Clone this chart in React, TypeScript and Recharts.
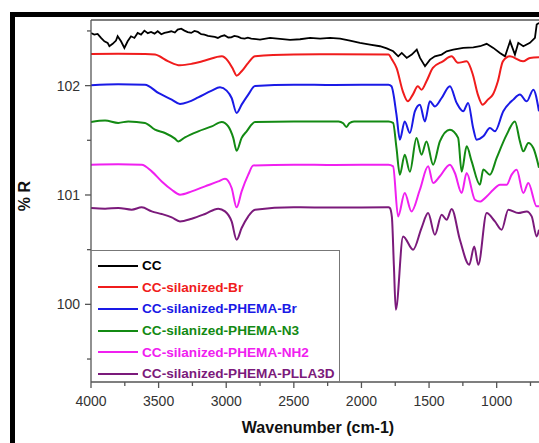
import { LineChart, Line, XAxis, YAxis, Legend, ReferenceLine } from 'recharts';

// FTIR spectra, [wavenumber cm-1, %R] pairs
const cc: [number, number][] = [
  [4000, 102.48], [3976, 102.467], [3951, 102.473], [3926, 102.436], [3901, 102.405], [3877, 102.391],
  [3864, 102.36], [3840, 102.382], [3815, 102.412], [3803, 102.451], [3778, 102.405], [3753, 102.345],
  [3729, 102.405], [3704, 102.451], [3679, 102.436], [3655, 102.482], [3630, 102.467], [3605, 102.503],
  [3580, 102.48], [3556, 102.491], [3530, 102.475], [3507, 102.497], [3480, 102.47], [3457, 102.482],
  [3430, 102.49], [3407, 102.497], [3380, 102.485], [3359, 102.512], [3333, 102.521], [3309, 102.503],
  [3285, 102.49], [3259, 102.482], [3235, 102.5], [3210, 102.491], [3185, 102.47], [3161, 102.467],
  [3135, 102.455], [3111, 102.451], [3085, 102.445], [3062, 102.436], [3040, 102.45], [3013, 102.46],
  [2985, 102.44], [2963, 102.442], [2940, 102.455], [2914, 102.448], [2890, 102.435], [2864, 102.43],
  [2840, 102.438], [2815, 102.43], [2750, 102.421], [2676, 102.436], [2602, 102.427], [2528, 102.418],
  [2454, 102.424], [2380, 102.436], [2306, 102.43], [2232, 102.436], [2158, 102.43], [2085, 102.412],
  [2011, 102.391], [1937, 102.375], [1863, 102.36], [1813, 102.34], [1765, 102.314], [1728, 102.268],
  [1702, 102.299], [1665, 102.253], [1628, 102.284], [1591, 102.329], [1567, 102.253], [1530, 102.177],
  [1493, 102.238], [1457, 102.268], [1407, 102.284], [1370, 102.314], [1321, 102.329], [1247, 102.345],
  [1173, 102.35], [1123, 102.36], [1074, 102.382], [1025, 102.345], [976, 102.299], [938, 102.268],
  [901, 102.405], [865, 102.284], [840, 102.391], [803, 102.36], [754, 102.391], [717, 102.436],
  [704, 102.558], [687, 102.574],
];

const silanizedBr: [number, number][] = [
  [4000, 102.29], [3800, 102.292], [3600, 102.29], [3527, 102.284], [3428, 102.222], [3342, 102.186],
  [3255, 102.199], [3157, 102.229], [3033, 102.268], [2985, 102.222], [2948, 102.146], [2923, 102.091],
  [2886, 102.131], [2837, 102.208], [2787, 102.268], [2500, 102.284], [2200, 102.286], [1800, 102.284],
  [1775, 102.24], [1740, 102.16], [1694, 101.948], [1657, 101.856], [1620, 101.918], [1583, 101.994],
  [1556, 101.963], [1519, 102.04], [1472, 102.162], [1398, 102.222], [1333, 102.268], [1287, 102.208],
  [1222, 102.222], [1176, 102.1], [1139, 101.918], [1104, 101.826], [1065, 101.872], [1028, 101.918],
  [991, 102.04], [954, 102.222], [902, 102.268], [805, 102.222], [754, 102.253], [687, 102.259],
];

const phemaBr: [number, number][] = [
  [4000, 102.003], [3800, 102.012], [3601, 102.009], [3502, 101.933], [3403, 101.872], [3342, 101.833],
  [3280, 101.851], [3207, 101.893], [3107, 101.954], [3046, 101.984], [2997, 101.954], [2960, 101.887],
  [2923, 101.75], [2886, 101.826], [2837, 101.918], [2787, 101.996], [2500, 102.009], [2200, 102.005],
  [1800, 102.009], [1778, 101.994], [1741, 101.735], [1716, 101.506], [1680, 101.673], [1642, 101.567],
  [1605, 101.765], [1568, 101.826], [1531, 101.673], [1494, 101.856], [1457, 101.81], [1407, 101.887],
  [1346, 101.994], [1296, 101.842], [1248, 101.765], [1211, 101.842], [1174, 101.613], [1148, 101.506],
  [1099, 101.536], [1050, 101.613], [1013, 101.582], [951, 101.765], [877, 101.872], [828, 101.918],
  [778, 101.856], [729, 101.963], [687, 101.765],
];

const phemaN3: [number, number][] = [
  [4000, 101.668], [3896, 101.68], [3798, 101.659], [3724, 101.673], [3601, 101.659], [3527, 101.597],
  [3453, 101.567], [3379, 101.515], [3354, 101.49], [3305, 101.527], [3207, 101.582], [3107, 101.627],
  [3033, 101.668], [2985, 101.627], [2948, 101.522], [2923, 101.405], [2886, 101.522], [2849, 101.582],
  [2787, 101.668], [2500, 101.673], [2170, 101.673], [2135, 101.655], [2111, 101.622], [2090, 101.655],
  [2055, 101.673], [1800, 101.673],
  [1766, 101.659], [1741, 101.43], [1716, 101.186], [1680, 101.369], [1642, 101.213], [1593, 101.522],
  [1556, 101.369], [1519, 101.49], [1470, 101.277], [1420, 101.49], [1346, 101.597], [1285, 101.522],
  [1259, 101.213], [1222, 101.445], [1185, 101.307], [1124, 101.094], [1099, 101.232], [1050, 101.186],
  [1000, 101.339], [926, 101.552], [865, 101.673], [828, 101.49], [803, 101.399], [766, 101.476],
  [729, 101.43], [687, 101.25],
];

const phemaNH2: [number, number][] = [
  [4000, 101.277], [3800, 101.28], [3625, 101.277], [3551, 101.216], [3477, 101.124], [3403, 101.048],
  [3342, 101.003], [3255, 101.033], [3157, 101.079], [3059, 101.124], [3009, 101.149], [2960, 101.064],
  [2923, 100.887], [2886, 101.033], [2837, 101.186], [2800, 101.27], [2500, 101.277], [2200, 101.275],
  [1800, 101.277], [1766, 101.262], [1729, 100.804], [1680, 101.018], [1630, 100.85], [1568, 101.048],
  [1507, 101.262], [1470, 101.11], [1420, 101.171], [1346, 101.277], [1309, 101.201], [1259, 101.018],
  [1222, 101.201], [1161, 100.957], [1124, 100.94], [1074, 100.987], [1025, 101.048], [976, 101.094],
  [926, 101.094], [889, 101.186], [852, 101.231], [803, 101.018], [766, 101.11], [704, 100.896],
  [687, 100.896],
];

const phemaPLLA3D: [number, number][] = [
  [4000, 100.881], [3896, 100.875], [3798, 100.881], [3699, 100.866], [3625, 100.887], [3551, 100.85],
  [3477, 100.826], [3403, 100.795], [3342, 100.758], [3255, 100.783], [3157, 100.826], [3059, 100.875],
  [3009, 100.85], [2960, 100.758], [2923, 100.591], [2886, 100.698], [2837, 100.805], [2787, 100.866],
  [2500, 100.887], [2200, 100.885], [1800, 100.887], [1790, 100.881], [1775, 100.8], [1760, 100.35],
  [1746, 99.951], [1692, 100.621], [1618, 100.5], [1556, 100.698], [1507, 100.835], [1457, 100.637],
  [1407, 100.82], [1370, 100.774], [1333, 100.872], [1272, 100.591], [1203, 100.362], [1166, 100.53],
  [1136, 100.362], [1074, 100.835], [1013, 100.758], [963, 100.683], [914, 100.866], [840, 100.835],
  [778, 100.85], [741, 100.804], [704, 100.621], [687, 100.683],
];

const xTicks = [4000, 3750, 3500, 3250, 3000, 2750, 2500, 2250, 2000, 1750, 1500, 1250, 1000, 750];
const yTicks = [99.5, 100, 100.5, 101, 101.5, 102, 102.5];

const series = [
  { name: 'CC', color: '#000000', points: cc, width: 1.8 },
  { name: 'CC-silanized-Br', color: '#f01c1c', points: silanizedBr, width: 2 },
  { name: 'CC-silanized-PHEMA-Br', color: '#1a1ae6', points: phemaBr, width: 2 },
  { name: 'CC-silanized-PHEMA-N3', color: '#138a13', points: phemaN3, width: 2 },
  { name: 'CC-silanized-PHEMA-NH2', color: '#f020f0', points: phemaNH2, width: 2 },
  { name: 'CC-silanized-PHEMA-PLLA3D', color: '#7b1a7b', points: phemaPLLA3D, width: 2 },
];

const font = '"Liberation Sans", Arial, sans-serif';
const axisColor = '#555';

function XTick({ x, y, payload }: any) {
  const major = payload.value % 500 === 0;
  return (
    <g>
      <line x1={x} x2={x} y1={y} y2={y + (major ? 6 : 4)} stroke={axisColor} strokeWidth={1.3} />
      {major && (
        <text x={x} y={y + 24} textAnchor="middle" fontSize={14} fontFamily={font} fill="#333">
          {payload.value}
        </text>
      )}
    </g>
  );
}

function YTick({ x, y, payload }: any) {
  const major = Number.isInteger(payload.value);
  return (
    <g>
      <line x1={x} x2={x - (major ? 6 : 4)} y1={y} y2={y} stroke={axisColor} strokeWidth={1.3} />
      {major && (
        <text x={x - 11} y={y + 5} textAnchor="end" fontSize={14} fontFamily={font} fill="#333">
          {payload.value}
        </text>
      )}
    </g>
  );
}

function YTitle() {
  return (
    <text x={24} y={196} transform="rotate(-90 24 196)" textAnchor="middle" dominantBaseline="central"
      fontSize={16} fontWeight="bold" fontFamily={font} fill="#111">
      % R
    </text>
  );
}

function XTitle() {
  return (
    <text x={318} y={433} textAnchor="middle" fontSize={16} fontWeight="bold" fontFamily={font} fill="#111">
      Wavenumber (cm-1)
    </text>
  );
}

function LegendBox({ payload }: any) {
  return (
    <div style={{
      width: 249, height: 132, boxSizing: 'border-box', borderTop: '1px solid #777',
      borderRight: '1px solid #777', paddingTop: 4, paddingLeft: 7, fontFamily: font,
    }}>
      {(payload || []).map((p: any) => (
        <div key={p.value} style={{ display: 'flex', alignItems: 'center', height: 21.6 }}>
          <div style={{ width: 40, height: 2, background: p.color, marginRight: 4 }} />
          <span style={{ color: p.color, fontWeight: 'bold', fontSize: 13.6, whiteSpace: 'nowrap' }}>{p.value}</span>
        </div>
      ))}
    </div>
  );
}

export default function App() {
  return (
    <div style={{ position: 'absolute', left: 0, top: 0, width: 539, height: 443, overflow: 'hidden', background: '#fff' }}>
      <div style={{ position: 'absolute', left: 10, top: 12, width: 620, height: 520, border: '5px solid #000' }} />
      <div style={{ position: 'absolute', left: 0, top: 0 }}>
        <LineChart width={539} height={443} margin={{ top: 20, right: 0, bottom: 0, left: 0 }}>
          <XAxis
            dataKey="wn"
            type="number"
            domain={[687, 4000]}
            reversed
            ticks={xTicks}
            interval={0}
            allowDataOverflow
            height={61}
            tickSize={0}
            tickMargin={0}
            tickLine={false}
            tick={<XTick />}
            axisLine={{ stroke: axisColor, strokeWidth: 1.3 }}
            label={<XTitle />}
          />
          <YAxis
            dataKey="r"
            type="number"
            domain={[99.29, 102.6]}
            ticks={yTicks}
            interval={0}
            allowDataOverflow
            width={91}
            tickSize={0}
            tickMargin={0}
            tickLine={false}
            tick={<YTick />}
            axisLine={{ stroke: axisColor, strokeWidth: 1.3 }}
            label={<YTitle />}
          />
          <ReferenceLine y={102.6} stroke={axisColor} strokeWidth={1.3} />
          {series.map((s) => (
            <Line
              key={s.name}
              name={s.name}
              data={s.points.map(([wn, r]) => ({ wn, r }))}
              dataKey="r"
              type={s.name === 'CC' ? 'linear' : 'monotone'}
              stroke={s.color}
              strokeWidth={s.width}
              dot={false}
              isAnimationActive={false}
            />
          ))}
          <Legend
            layout="horizontal"
            verticalAlign="middle"
            align="center"
            content={<LegendBox />}
            wrapperStyle={{ left: 91, top: 250, width: 249, height: 132 }}
          />
        </LineChart>
      </div>
    </div>
  );
}
